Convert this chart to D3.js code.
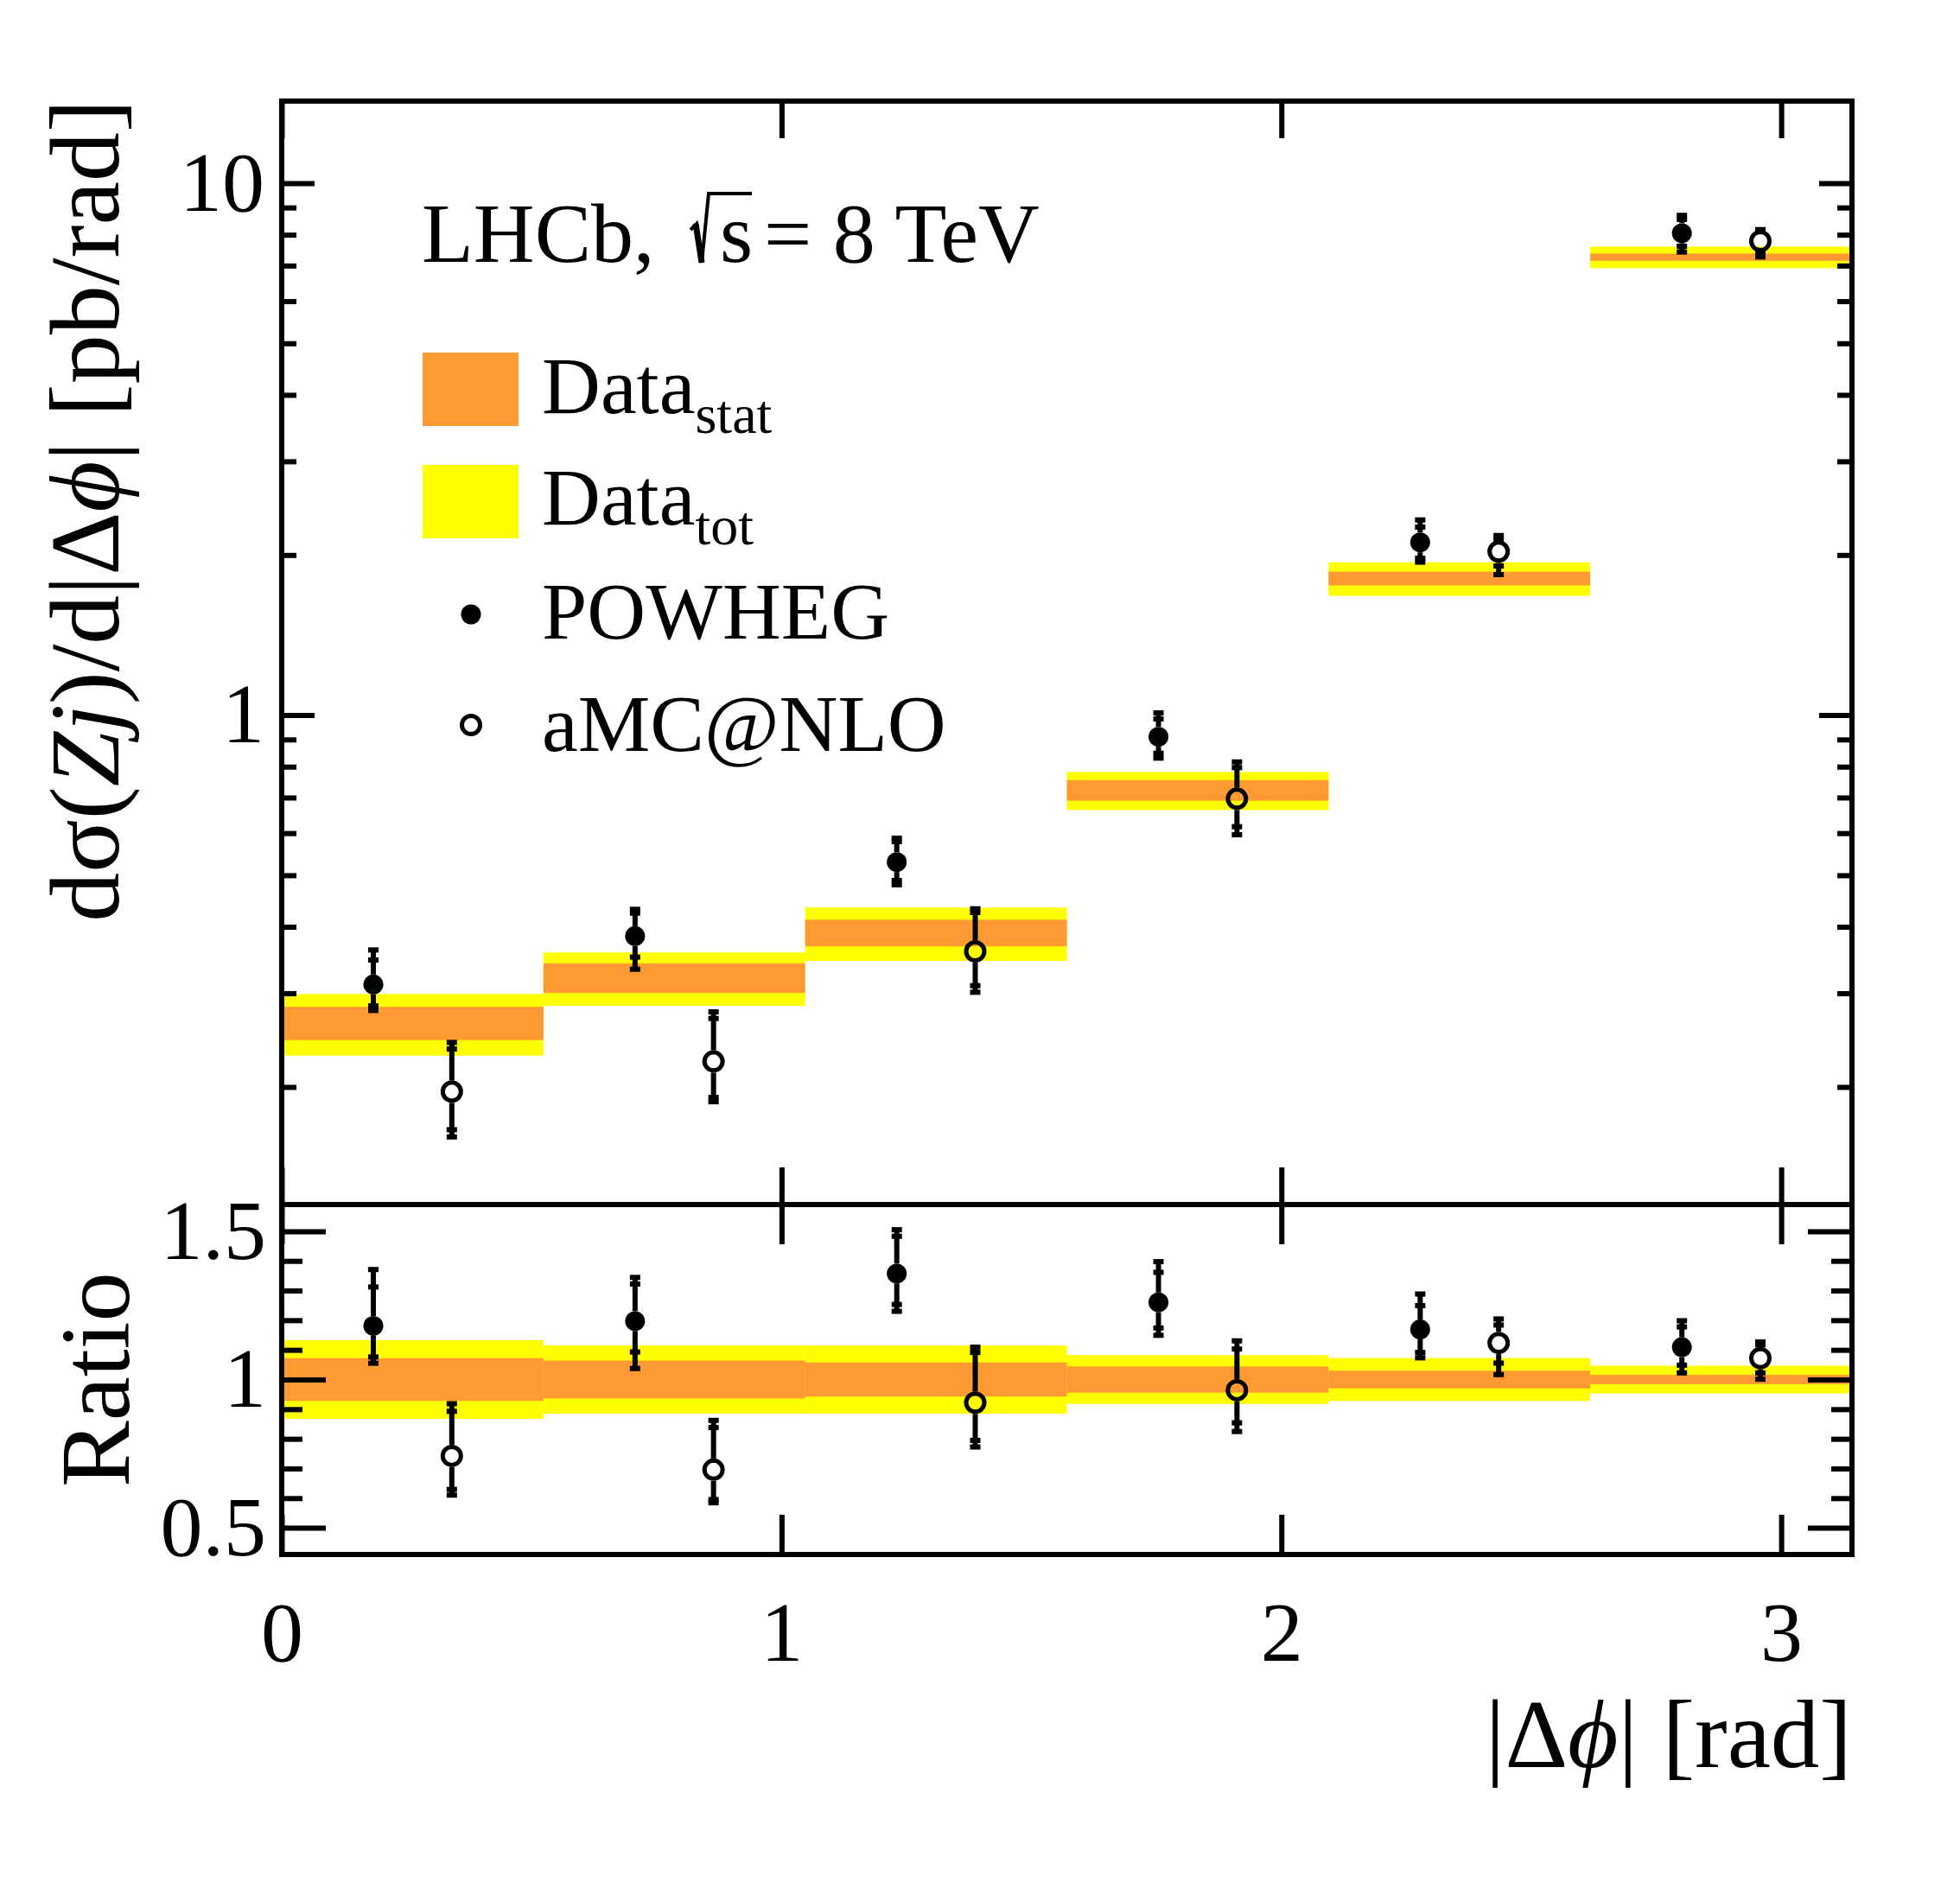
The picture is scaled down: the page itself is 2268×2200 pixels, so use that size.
<!DOCTYPE html>
<html>
<head>
<meta charset="utf-8">
<script src="https://cdn.jsdelivr.net/npm/d3@7"></script>
<style>
  body { margin: 0; background: #fff; }
  text { font-family: "Liberation Serif", "Times New Roman", serif; fill: #000; }
</style>
</head>
<body>
<svg id="chart"></svg>
<script>
// bins in |delta phi| (rad)
const binEdges = [0, 0.5236, 1.0472, 1.5708, 2.0944, 2.6180, 3.1416];

// measured cross-section per bin [pb/rad]
const dataVal = [0.264, 0.321, 0.390, 0.7225, 1.807, 7.26];
const dataStat = [0.019, 0.0205, 0.0224, 0.032, 0.054, 0.114];
const dataTot = [0.035, 0.037, 0.0449, 0.0594, 0.131, 0.339];

// POWHEG prediction: central value and inner / outer uncertainty limits
const powhegVal = [0.3117, 0.3842, 0.5293, 0.9104, 2.112, 8.051];
const powhegInnerHi = [0.3464, 0.4244, 0.5783, 0.9836, 2.257, 8.548];
const powhegInnerLo = [0.2841, 0.3508, 0.4887, 0.8480, 1.972, 7.612];
const powhegOuterHi = [0.3619, 0.4315, 0.5870, 1.0097, 2.328, 8.699];
const powhegOuterLo = [0.2785, 0.3329, 0.4797, 0.8302, 1.939, 7.423];

// aMC@NLO prediction
const amcVal = [0.1960, 0.2234, 0.3596, 0.6964, 2.030, 7.783];
const amcInnerHi = [0.2357, 0.2690, 0.4256, 0.7968, 2.139, 8.11];
const amcInnerLo = [0.1662, 0.1911, 0.3100, 0.6170, 1.907, 7.423];
const amcOuterHi = [0.2425, 0.2768, 0.4325, 0.8167, 2.176, 8.179];
const amcOuterLo = [0.1611, 0.1876, 0.3013, 0.5958, 1.837, 7.267];

// axis ticks
const xTicks = [0, 1, 2, 3];
const yMajorTicks = [1, 10];
const yMinorTicks = [0.2, 0.3, 0.4, 0.5, 0.6, 0.7, 0.8, 0.9, 2, 3, 4, 5, 6, 7, 8, 9];
const ratioMajorTicks = [0.5, 1, 1.5];
const ratioMinorTicks = [0.6, 0.7, 0.8, 0.9, 1.1, 1.2, 1.3, 1.4];

const width = 2268;
const height = 2200;
const frame = { left: 326, right: 2143, top: 117, mid: 1394, bottom: 1799 };
const lineWidth = 6;
const pointShift = 0.0785; // horizontal offset of the two predictions inside a bin

const colorStat = "#ff9a33";
const colorTot = "#ffff00";

const svg = d3.select("#chart").attr("width", width).attr("height", height);

const xScale = d3.scaleLinear().domain([0, Math.PI]).range([frame.left, frame.right]);
const yScale = d3.scaleLog().domain([0.12022, 14.266]).range([frame.mid, frame.top]);
const rScale = d3.scaleLinear().domain([0.41, 1.59]).range([frame.bottom, frame.mid]);

const bins = dataVal.map((val, i) => ({
  lo: binEdges[i],
  hi: binEdges[i + 1],
  val,
  stat: dataStat[i],
  tot: dataTot[i],
}));

function prediction(val, innerHi, innerLo, outerHi, outerLo, shift) {
  return val.map((v, i) => ({
    x: (binEdges[i] + binEdges[i + 1]) / 2 + shift,
    val: v,
    innerHi: innerHi[i],
    innerLo: innerLo[i],
    outerHi: outerHi[i],
    outerLo: outerLo[i],
    ref: dataVal[i],
  }));
}

const powheg = prediction(powhegVal, powhegInnerHi, powhegInnerLo, powhegOuterHi, powhegOuterLo, -pointShift);
const amc = prediction(amcVal, amcInnerHi, amcInnerLo, amcOuterHi, amcOuterLo, pointShift);

// ---- bands
function drawBands(scale, norm) {
  const g = svg.append("g");
  [["tot", colorTot], ["stat", colorStat]].forEach(([key, color]) => {
    g.selectAll(`rect.${key}`)
      .data(bins)
      .join("rect")
      .attr("class", key)
      .attr("x", (d) => xScale(d.lo))
      .attr("width", (d) => xScale(d.hi) - xScale(d.lo))
      .attr("y", (d) => scale(norm(d.val + d[key], d.val)))
      .attr("height", (d) => scale(norm(d.val - d[key], d.val)) - scale(norm(d.val + d[key], d.val)))
      .attr("fill", color);
  });
}

// ---- prediction points with two-level error bars
function drawPoints(points, scale, norm, open) {
  const g = svg.append("g");
  const radius = open ? 13 : 11.5;
  points.forEach((p) => {
    const cx = xScale(p.x);
    const cy = scale(norm(p.val, p.ref));
    const yHi = scale(norm(p.outerHi, p.ref));
    const yLo = scale(norm(p.outerLo, p.ref));
    if (yHi < cy - radius) {
      g.append("line").attr("x1", cx).attr("x2", cx).attr("y1", yHi).attr("y2", cy - radius)
        .attr("stroke", "#000").attr("stroke-width", lineWidth);
    }
    if (yLo > cy + radius) {
      g.append("line").attr("x1", cx).attr("x2", cx).attr("y1", cy + radius).attr("y2", yLo)
        .attr("stroke", "#000").attr("stroke-width", lineWidth);
    }
    [p.outerHi, p.innerHi, p.innerLo, p.outerLo].forEach((v) => {
      const yy = scale(norm(v, p.ref));
      g.append("line").attr("x1", cx - 6).attr("x2", cx + 6).attr("y1", yy).attr("y2", yy)
        .attr("stroke", "#000").attr("stroke-width", lineWidth);
    });
    if (open) {
      g.append("circle").attr("cx", cx).attr("cy", cy).attr("r", 10.5)
        .attr("fill", "none").attr("stroke", "#000").attr("stroke-width", 5);
    } else {
      g.append("circle").attr("cx", cx).attr("cy", cy).attr("r", radius).attr("fill", "#000");
    }
  });
}

const absolute = (v) => v;
const relative = (v, ref) => v / ref;

drawBands(yScale, absolute);
drawBands(rScale, relative);
drawPoints(powheg, yScale, absolute, false);
drawPoints(amc, yScale, absolute, true);
drawPoints(powheg, rScale, relative, false);
drawPoints(amc, rScale, relative, true);

// ---- axes (ticks point inwards)
function styleAxis(g, fontSize) {
  g.select(".domain").remove();
  g.attr("font-family", null).attr("font-size", fontSize);
  g.selectAll("line").attr("stroke-width", lineWidth);
  return g;
}

function addAxis(axis, tx, ty, fontSize = 98) {
  const g = svg.append("g").attr("transform", `translate(${tx},${ty})`).call(axis);
  return styleAxis(g, fontSize);
}

const noLabel = () => "";

// upper panel, y
addAxis(d3.axisLeft(yScale).tickValues(yMinorTicks).tickSize(-17).tickFormat(noLabel), frame.left, 0);
addAxis(d3.axisLeft(yScale).tickValues(yMajorTicks).tickSize(-38).tickPadding(20).tickFormat((d) => d), frame.left, 0);
addAxis(d3.axisRight(yScale).tickValues(yMinorTicks).tickSize(-17).tickFormat(noLabel), frame.right, 0);
addAxis(d3.axisRight(yScale).tickValues(yMajorTicks).tickSize(-38).tickFormat(noLabel), frame.right, 0);

// upper panel, x
addAxis(d3.axisTop(xScale).tickValues(xTicks).tickSize(-43).tickFormat(noLabel), 0, frame.top);
addAxis(d3.axisBottom(xScale).tickValues(xTicks).tickSize(-43).tickFormat(noLabel), 0, frame.mid);

// ratio panel, y
const ratioFormat = (d) => (d === 1 ? "1" : d3.format(".1f")(d));
addAxis(d3.axisLeft(rScale).tickValues(ratioMinorTicks).tickSize(-24).tickFormat(noLabel), frame.left, 0);
addAxis(d3.axisLeft(rScale).tickValues(ratioMajorTicks).tickSize(-51).tickPadding(18).tickFormat(ratioFormat), frame.left, 0);
addAxis(d3.axisRight(rScale).tickValues(ratioMinorTicks).tickSize(-24).tickFormat(noLabel), frame.right, 0);
addAxis(d3.axisRight(rScale).tickValues(ratioMajorTicks).tickSize(-51).tickFormat(noLabel), frame.right, 0);

// ratio panel, x
addAxis(d3.axisTop(xScale).tickValues(xTicks).tickSize(-46).tickFormat(noLabel), 0, frame.mid);
addAxis(d3.axisBottom(xScale).tickValues(xTicks).tickSize(-46).tickPadding(53).tickFormat((d) => d), 0, frame.bottom);

// ---- frames
svg.append("rect")
  .attr("x", frame.left).attr("y", frame.top)
  .attr("width", frame.right - frame.left).attr("height", frame.mid - frame.top)
  .attr("fill", "none").attr("stroke", "#000").attr("stroke-width", lineWidth);
svg.append("rect")
  .attr("x", frame.left).attr("y", frame.mid)
  .attr("width", frame.right - frame.left).attr("height", frame.bottom - frame.mid)
  .attr("fill", "none").attr("stroke", "#000").attr("stroke-width", lineWidth);

// ---- axis titles
const yTitle = svg.append("text")
  .attr("transform", `translate(137,${frame.top - 2}) rotate(-90)`)
  .attr("text-anchor", "end")
  .attr("font-size", 114);
yTitle.append("tspan").text("dσ(");
yTitle.append("tspan").attr("font-style", "italic").text("Zj");
yTitle.append("tspan").text(")/d|Δ");
yTitle.append("tspan").attr("font-style", "italic").text("ϕ");
yTitle.append("tspan").text("| [pb/rad]");

svg.append("text")
  .attr("transform", `translate(149,${(frame.mid + frame.bottom) / 2}) rotate(-90)`)
  .attr("text-anchor", "middle")
  .attr("font-size", 115)
  .text("Ratio");

const xTitle = svg.append("text")
  .attr("x", frame.right)
  .attr("y", 2045)
  .attr("text-anchor", "end")
  .attr("font-size", 113);
xTitle.append("tspan").text("|Δ");
xTitle.append("tspan").attr("font-style", "italic").text("ϕ");
xTitle.append("tspan").text("| [rad]");

// ---- LHCb label, radical drawn as a path with its bar over the s
const label = svg.append("g").attr("font-size", 98);
label.append("text").attr("x", 488).attr("y", 303).text("LHCb,");
label.append("path")
  .attr("d", "M799,266 L806,259 L812,304 L820,224 L870,224")
  .attr("fill", "none").attr("stroke", "#000").attr("stroke-width", 4)
  .attr("stroke-linejoin", "miter");
label.append("path")
  .attr("d", "M805,259 L812,304")
  .attr("stroke", "#000").attr("stroke-width", 7);
label.append("text").attr("x", 833).attr("y", 303).text("s");
label.append("text").attr("x", 884).attr("y", 303).text("= 8 TeV");

// ---- legend
const legend = svg.append("g").attr("font-size", 94);
const legendBoxes = [
  { color: colorStat, y: 408, base: 478, sub: "stat" },
  { color: colorTot, y: 538, base: 607, sub: "tot" },
];
legendBoxes.forEach((d) => {
  legend.append("rect").attr("x", 489).attr("y", d.y).attr("width", 111).attr("height", 85).attr("fill", d.color);
  const t = legend.append("text").attr("x", 627).attr("y", d.base);
  t.append("tspan").text("Data");
  t.append("tspan").attr("font-size", 64).attr("dy", 23).text(d.sub);
});
legend.append("circle").attr("cx", 545).attr("cy", 711).attr("r", 11.5).attr("fill", "#000");
legend.append("text").attr("x", 627).attr("y", 739).text("POWHEG");
legend.append("circle").attr("cx", 545).attr("cy", 839).attr("r", 10.5)
  .attr("fill", "none").attr("stroke", "#000").attr("stroke-width", 5);
legend.append("text").attr("x", 627).attr("y", 869).text("aMC@NLO");
</script>
</body>
</html>
